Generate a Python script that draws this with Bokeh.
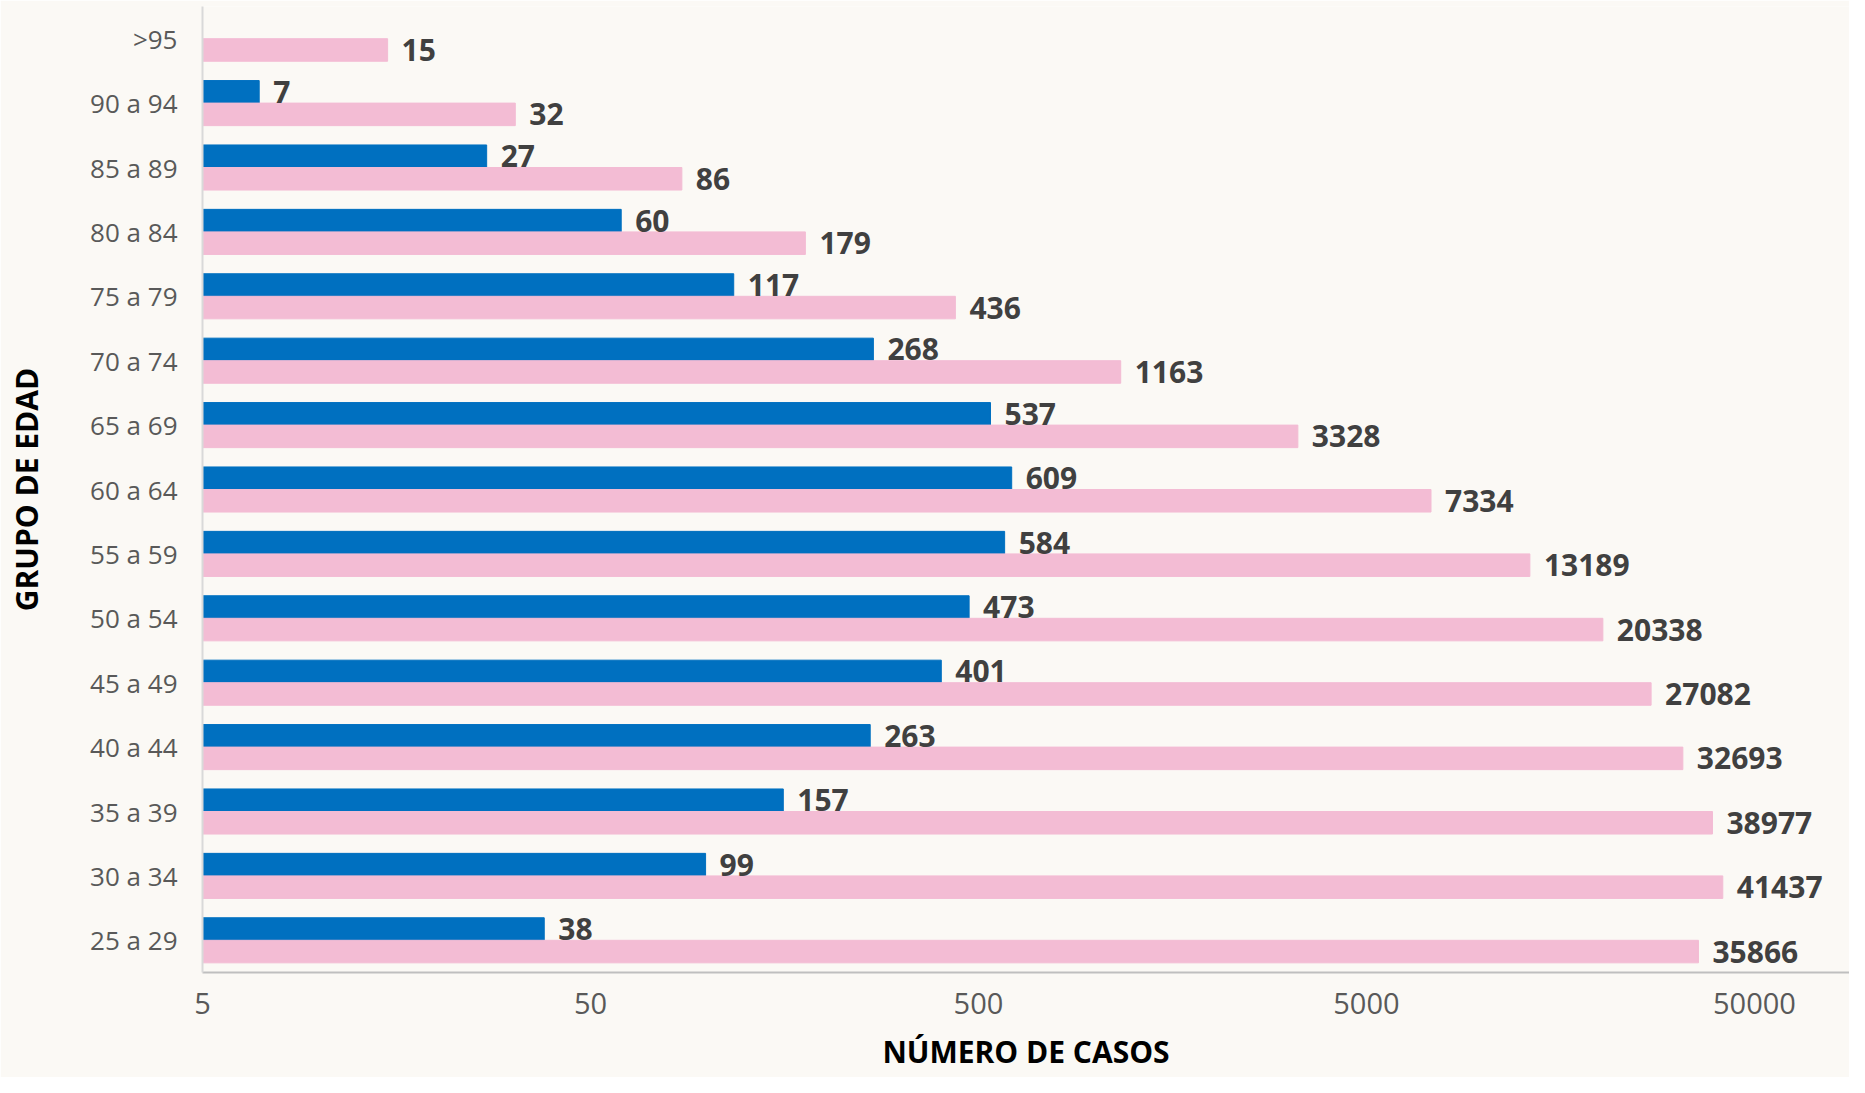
from bokeh.plotting import figure
from bokeh.models import ColumnDataSource, FactorRange, FixedTicker, NumeralTickFormatter
from bokeh.transform import dodge
from bokeh.core.properties import value
from bokeh.embed import file_html
from bokeh.resources import INLINE

# Data (bottom to top)
categories = ["25 a 29", "30 a 34", "35 a 39", "40 a 44", "45 a 49", "50 a 54",
              "55 a 59", "60 a 64", "65 a 69", "70 a 74", "75 a 79", "80 a 84",
              "85 a 89", "90 a 94", ">95"]
serie_azul = [38, 99, 157, 263, 401, 473, 584, 609, 537, 268, 117, 60, 27, 7, None]
serie_rosa = [35866, 41437, 38977, 32693, 27082, 20338, 13189, 7334, 3328, 1163,
              436, 179, 86, 32, 15]
x_ticks = [5, 50, 500, 5000, 50000]

BLUE = "#0070C0"
PINK = "#F3BCD4"
BG = "#FBF9F5"
X_START = 5
X_END = 87900

azul_cats = [c for c, v in zip(categories, serie_azul) if v is not None]
azul_vals = [v for v in serie_azul if v is not None]
src_azul = ColumnDataSource(dict(cat=azul_cats, val=azul_vals,
                                 left=[X_START] * len(azul_vals),
                                 lab=[str(v) for v in azul_vals]))
src_rosa = ColumnDataSource(dict(cat=categories, val=serie_rosa,
                                 left=[X_START] * len(serie_rosa),
                                 lab=[str(v) for v in serie_rosa]))

p = figure(width=1849, height=1077, y_range=FactorRange(*categories),
           x_axis_type="log", x_range=(X_START, X_END),
           output_backend="svg", toolbar_location=None,
           min_border_left=202, min_border_right=0, min_border_top=6,
           min_border_bottom=105)
p.y_range.range_padding = 0

p.background_fill_color = BG
p.border_fill_color = BG
p.outline_line_color = None
p.grid.visible = False

off = 0.175
bh = 0.35
p.hbar(y=dodge("cat", off, range=p.y_range), left="left", right="val", height=bh,
       color=BLUE, source=src_azul)
p.hbar(y=dodge("cat", -off, range=p.y_range), left="left", right="val", height=bh,
       color=PINK, source=src_rosa)

common = dict(x_offset=14, text_baseline="middle", text_align="left",
              text_font=value("Open Sans"), text_font_style="bold",
              text_font_size="30px", text_color="#404040")
p.text(x="val", y=dodge("cat", off, range=p.y_range), text="lab", source=src_azul, **common)
p.text(x="val", y=dodge("cat", -off, range=p.y_range), text="lab", source=src_rosa, **common)

# X axis
xa = p.xaxis[0]
xa.ticker = FixedTicker(ticks=x_ticks)
xa.formatter = NumeralTickFormatter(format="0")
xa.major_tick_line_color = None
xa.minor_tick_line_color = None
xa.major_tick_out = 0
xa.major_label_standoff = 20
xa.major_label_text_font = "Open Sans"
xa.major_label_text_font_size = "29px"
xa.major_label_text_color = "#595959"
xa.axis_line_color = "#BFBFBF"
xa.axis_line_width = 2
xa.axis_label = "NÚMERO DE CASOS"
xa.axis_label_text_font = "Open Sans"
xa.axis_label_text_font_style = "bold"
xa.axis_label_text_font_size = "30px"
xa.axis_label_text_color = "#000000"
xa.axis_label_standoff = 14

# Y axis
ya = p.yaxis[0]
ya.major_tick_line_color = None
ya.minor_tick_line_color = None
ya.major_tick_out = 0
ya.major_label_standoff = 25
ya.major_label_text_font = "Open Sans"
ya.major_label_text_font_size = "26px"
ya.major_label_text_color = "#595959"
ya.axis_line_color = "#D9D9D9"
ya.axis_line_width = 2
ya.axis_label = "GRUPO DE EDAD"
ya.axis_label_text_font = "Open Sans"
ya.axis_label_text_font_style = "bold"
ya.axis_label_text_font_size = "30px"
ya.axis_label_text_color = "#000000"
ya.axis_label_standoff = 40

open("out.html", "w").write(file_html(p, INLINE))
